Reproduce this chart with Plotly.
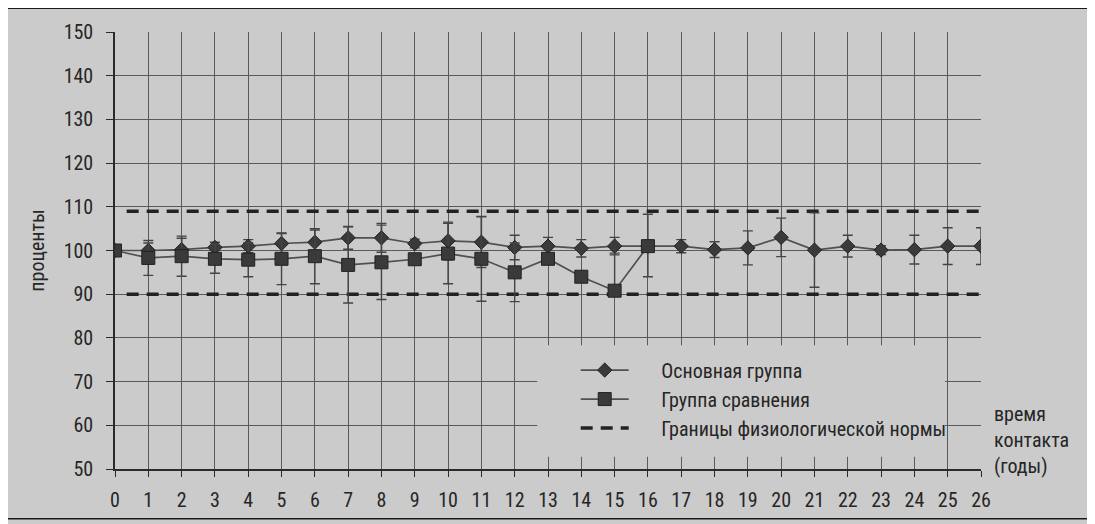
import plotly.graph_objects as go

# ---- data ----
years_main = list(range(27))
main_vals = [100, 100, 100.2, 100.7, 101.0, 101.6, 101.9, 102.9, 102.9, 101.6, 102.2,
             101.9, 100.7, 101.0, 100.5, 101.0, 101.0, 101.0, 100.2, 100.6, 103.0,
             100.1, 101.0, 100.1, 100.2, 101.0, 101.0]
main_err = [0, 1.7, 2.6, 1.2, 1.5, 2.3, 2.8, 2.6, 3.3, 1.0, 4.3, 5.8, 2.8, 2.0, 2.0,
            2.0, 1.0, 1.5, 1.8, 3.9, 4.4, 8.5, 2.5, 1.0, 3.3, 4.2, 4.2]

years_cmp = list(range(17))
cmp_vals = [100, 98.3, 98.7, 98.1, 97.9, 98.1, 98.7, 96.7, 97.3, 98.0, 99.3, 98.1,
            95.0, 98.1, 94.0, 90.8, 101.0]
cmp_err_plus = [0, 4.0, 4.6, 3.3, 3.9, 5.9, 6.3, 8.7, 8.5, 1.0, 6.9, 9.7, 6.7, 1.0,
                1.0, 8.6, 7.3]
cmp_err_minus = [0, 4.0, 4.6, 3.3, 3.9, 5.9, 6.3, 8.7, 8.5, 1.0, 6.9, 9.7, 6.7, 1.0,
                 1.0, 0.5, 7.0]

norm_upper = 109
norm_lower = 90
norm_span = [0.35, 26.2]

x_ticks = list(range(27))
y_ticks = list(range(50, 151, 10))

names = ["Основная группа", "Группа сравнения", "Границы физиологической нормы"]
y_title = "проценты"
x_note = "время<br>контакта<br>(годы)"

FONT = "Liberation Sans Narrow, Roboto Condensed, Arial Narrow, sans-serif"
INK = "#262626"
BG = "#cbcbcb"
MARK = "#3a3a3a"
PAD = "\u00a0" * 6

fig = go.Figure()

# norm lines
fig.add_trace(go.Scatter(
    x=norm_span, y=[norm_upper, norm_upper], mode="lines",
    line=dict(color="#222222", width=3.5, dash="12px,8px"),
    name=PAD + names[2], legendgroup="c", legendrank=3, cliponaxis=False,
    hoverinfo="skip"))
fig.add_trace(go.Scatter(
    x=norm_span, y=[norm_lower, norm_lower], mode="lines",
    line=dict(color="#222222", width=3.5, dash="12px,8px"),
    name=names[2], legendgroup="c", showlegend=False, cliponaxis=False,
    hoverinfo="skip"))

fig.add_trace(go.Scatter(
    x=years_main, y=main_vals, mode="lines+markers", name=PAD + names[0],
    legendgroup="a", legendrank=1,
    line=dict(color="#505050", width=1.7),
    marker=dict(symbol="diamond", size=11, color=MARK,
                line=dict(color="#222222", width=1)),
    error_y=dict(type="data", array=main_err, visible=True,
                 color="#444444", thickness=1.4, width=5)))

fig.add_trace(go.Scatter(
    x=years_cmp, y=cmp_vals, mode="lines+markers", name=PAD + names[1],
    legendgroup="b", legendrank=2,
    line=dict(color="#505050", width=1.7),
    marker=dict(symbol="square", size=13, color=MARK,
                line=dict(color="#222222", width=1)),
    error_y=dict(type="data", symmetric=False, array=cmp_err_plus,
                 arrayminus=cmp_err_minus, visible=True,
                 color="#444444", thickness=1.4, width=5)))

fig.add_annotation(xref="paper", yref="paper", x=1.0, y=0.159,
                   xanchor="left", yanchor="top", xshift=11,
                   text=x_note, showarrow=False, align="left",
                   font=dict(family=FONT, size=20, color=INK))

# legend backdrop (hides gridlines like the reference)
fig.add_shape(type="rect", xref="paper", yref="paper",
              x0=0.4876, x1=0.9585, y0=0.028, y1=0.283,
              fillcolor=BG, line=dict(width=0), layer="above")

# outer frame
fig.add_shape(type="rect", xref="paper", yref="paper",
              x0=-0.1287, x1=1.1235, y0=-0.1139, y1=1.0541,
              line=dict(color="#1a1a1a", width=1.5), layer="below")

fig.update_layout(
    width=1087, height=516,
    margin=dict(l=106.5, r=114, t=19, b=53.5),
    paper_bgcolor=BG, plot_bgcolor=BG,
    font=dict(family=FONT, size=20, color=INK),
    showlegend=True,
    legend=dict(x=0.532, y=0.271, xanchor="left", yanchor="top",
                bgcolor="rgba(0,0,0,0)", borderwidth=0, tracegroupgap=0,
                itemwidth=48, traceorder="grouped",
                font=dict(family=FONT, size=20, color=INK)),
    xaxis=dict(range=[0, 26], tickvals=x_ticks, ticktext=[str(v) for v in x_ticks],
               showgrid=True, gridcolor="#5a5a5a", gridwidth=1,
               showline=True, linecolor="#2a2a2a", linewidth=1.5,
               ticks="outside", ticklen=6, tickcolor="#2a2a2a",
               zeroline=False, ticklabelstandoff=6),
    yaxis=dict(range=[50, 150], tickvals=y_ticks,
               showgrid=True, gridcolor="#5a5a5a", gridwidth=1,
               showline=True, linecolor="#2a2a2a", linewidth=1.5,
               ticks="outside", ticklen=7, tickcolor="#2a2a2a",
               zeroline=False, ticklabelstandoff=9,
               title=dict(text=y_title, standoff=14,
                          font=dict(family=FONT, size=20, color=INK))),
)

fig.write_html("out.html")
